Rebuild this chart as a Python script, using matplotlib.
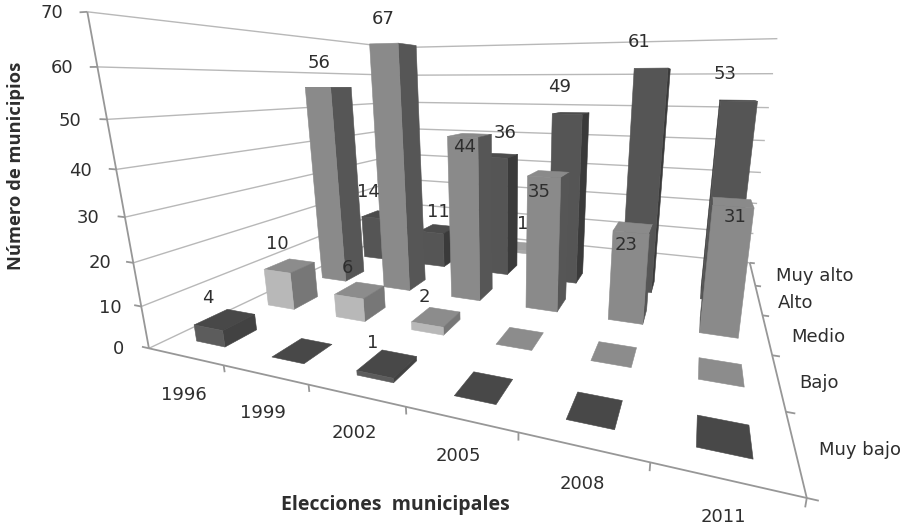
import numpy as np
import matplotlib
matplotlib.use("Agg")
import matplotlib.pyplot as plt
from mpl_toolkits.mplot3d.art3d import Poly3DCollection, Line3DCollection

plt.rcParams['font.family'] = ['DejaVu Sans']

years = ['1996', '1999', '2002', '2005', '2008', '2011']
levels = ['Muy bajo', 'Bajo', 'Medio', 'Alto', 'Muy alto']
muy_bajo = [4, 0, 1, 0, 0, 0]
bajo = [10, 6, 2, 0, 0, 0]
medio = [56, 67, 44, 35, 23, 31]
alto = [14, 11, 36, 49, 61, 53]
muy_alto = [None, None, 1, None, None, None]
series = [muy_bajo, bajo, medio, alto, muy_alto]
z_ticks = [0, 10, 20, 30, 40, 50, 60, 70]

# face colours per series: front, side, top
face_colors = [('#5c5c5c', '#424242', '#484848'),
               ('#b8b8b8', '#777777', '#8c8c8c'),
               ('#8a8a8a', '#565656', '#8a8a8a'),
               ('#555555', '#3a3a3a', '#4c4c4c'),
               ('#a8a8a8', '#808080', '#a0a0a0')]
BAR_W, BAR_D = 0.39, 0.42

# camera calibration: box corners (cell units, cell units, value) -> output pixels
calib = [(0, 0, 0, 148, 348), (6, 0, 0, 807, 495), (6, 5, 0, 748, 264), (0, 5, 0, 405, 226),
         (0, 0, 70, 87, 13), (6, 5, 70, 777, 38), (0, 5, 70, 395, 47), (3, 0, 0, 405, 407),
         (0, 0, 30, 127, 217), (6, 5, 30, 762, 173), (0, 5, 30, 400, 155),
         (6, 1, 0, 788, 411), (6, 3, 0, 763, 316), (1, 0, 0, 222, 367), (5, 0, 0, 650, 462)]

def fit_camera(pairs):
    rows = []
    for X, Y, Z, u, v in pairs:
        h = [X, Y, Z / 10, 1]
        u, v = u / 100, v / 100
        rows.append(h + [0, 0, 0, 0] + [-u * a for a in h])
        rows.append([0, 0, 0, 0] + h + [-v * a for a in h])
    P = np.linalg.svd(np.array(rows))[2][-1].reshape(3, 4)
    P = P @ np.diag([1, 1, 0.1, 1])
    P[:2] *= 100
    P /= P[2] @ np.array([3, 2.5, 0, 1])
    return P

P = fit_camera(calib)
cam = np.linalg.svd(P)[2][-1]
cam = cam[:3] / cam[3]
M = np.vstack([P[0], P[1], [0, 0, 0, -1], P[2]])

fig = plt.figure(figsize=(9.16, 5.28), dpi=100, facecolor='white')
ax = fig.add_axes([0, 0, 1, 1], projection='3d')
ax.set_axis_off()
ax.computed_zorder = False
ax.apply_aspect = lambda position=None: None
ax.get_proj = lambda: M
ax.set_xlim(0, 6); ax.set_ylim(0, 5); ax.set_zlim(0, 70)

grid_segs = []
for z in z_ticks:
    grid_segs.append([(0, 0, z), (0, 5, z)])
    grid_segs.append([(0, 5, z), (6, 5, z)])
axis_segs = [[(0, 0, 0), (0, 0, 70)], [(0, 0, 0), (6, 0, 0)], [(6, 0, 0), (6, 5, 0)]]
axis_segs += [[(-0.1, 0, z), (0, 0, z)] for z in z_ticks]
axis_segs += [[(i, 0, 0), (i, 0, -1.6)] for i in range(1, 7)]
axis_segs += [[(6, j, 0), (6.07, j, 0)] for j in range(0, 6)]
gc = Line3DCollection(grid_segs, colors='#b8b8b8', linewidths=1.0)
gc.set_zorder(1)
ax.add_collection3d(gc)
ac = Line3DCollection(axis_segs, colors='#979797', linewidths=1.3)
ac.set_zorder(2)
ax.add_collection3d(ac)

def bar_faces(x0, y0, h):
    x1, y1 = x0 + BAR_W, y0 + BAR_D
    faces, kinds = [], []
    if h < cam[2] or h == 0:
        faces.append([(x0, y0, h), (x1, y0, h), (x1, y1, h), (x0, y1, h)]); kinds.append(2)
    if h > 0:
        if x1 < cam[0]:
            faces.append([(x1, y0, 0), (x1, y1, 0), (x1, y1, h), (x1, y0, h)]); kinds.append(1)
        elif x0 > cam[0]:
            faces.append([(x0, y0, 0), (x0, y1, 0), (x0, y1, h), (x0, y0, h)]); kinds.append(1)
        faces.append([(x0, y0, 0), (x1, y0, 0), (x1, y0, h), (x0, y0, h)]); kinds.append(0)
    return faces, kinds

for row, vals in enumerate(series):
    for col, v in enumerate(vals):
        if v is None:
            continue
        x0 = col + (1 - BAR_W) / 2
        y0 = row + (1 - BAR_D) / 2
        faces, kinds = bar_faces(x0, y0, v)
        for k, (f, kind) in enumerate(zip(faces, kinds)):
            c = face_colors[row][kind]
            pc = Poly3DCollection([f], facecolors=c, edgecolors=c, linewidths=0.4)
            pc.set_zorder(10 + (4 - row) * 10 + col * 0.5 + k * 0.01)
            ax.add_collection3d(pc)

ax.viewLim.intervalx = (0, 916)
ax.viewLim.intervaly = (528, 0)

TXT = '#2e2e2e'
FS = 13.0
def put(x, y, s, **kw):
    kw.setdefault('fontsize', FS)
    kw.setdefault('color', TXT)
    ax.text2D(x, y, s, transform=ax.transData, ha='center', va='center', zorder=100, **kw)

z_label_xy = [(118, 349), (110, 308), (100, 263), (88, 218), (80, 171), (70, 121), (62, 68), (52, 13)]
for z, (x, y) in zip(z_ticks, z_label_xy):
    put(x, y, str(z))
year_xy = [(184, 395), (263, 413), (354, 433), (458, 456), (582, 484), (723, 517)]
for s, (x, y) in zip(years, year_xy):
    put(x, y, s)
level_xy = [(860, 450), (819, 383), (818, 337), (796, 303), (815, 276)]
for s, (x, y) in zip(levels, level_xy):
    put(x, y, s)

value_xy = [[(208, 298), None, (373, 343), None, None, None],
            [(277, 244), (347, 268), (424, 297), None, None, None],
            [(319, 63), (383, 19), (465, 147), (539, 192), (626, 245), (735, 217)],
            [(368, 192), (438, 212), (505, 133), (560, 87), (639, 42), (725, 74)],
            [None, None, (523, 224), None, None, None]]
for vals, xys in zip(series, value_xy):
    for v, xy in zip(vals, xys):
        if xy is not None:
            put(xy[0], xy[1], str(v))

put(395, 505, 'Elecciones  municipales', fontweight='bold', fontsize=14, family=['Open Sans'])
put(16, 166, 'Número de municipios', fontweight='bold', fontsize=13.2, rotation=90, family=['Open Sans'])

fig.savefig('out.png', dpi=100)
